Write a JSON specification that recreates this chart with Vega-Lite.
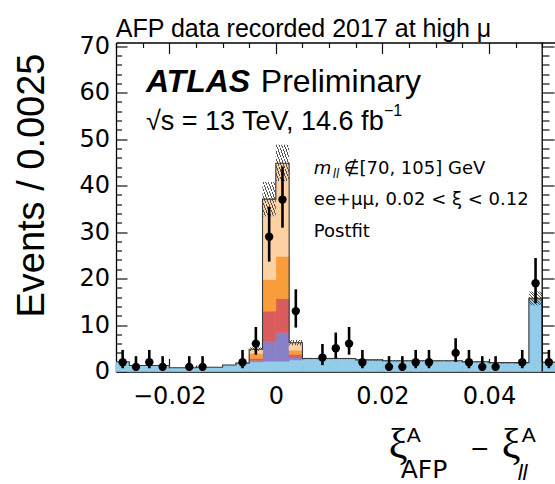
{
  "$schema": "https://vega.github.io/schema/vega-lite/v6.json",
  "width": 439,
  "height": 329,
  "autosize": {"type": "none"},
  "padding": {"left": 116, "top": 42.5, "right": 0, "bottom": 112.5},
  "background": "white",
  "title": {"text": "AFP data recorded 2017 at high μ", "anchor": "middle", "frame": "group", "offset": 9.5, "baseline": "alphabetic", "dx": -32, "dy": 37, "font": "Liberation Sans", "fontSize": 25, "fontWeight": "normal", "color": "#000"},
  "config": {
    "view": {"stroke": null},
    "axis": {"grid": false, "zindex": 2, "domainColor": "#000", "domainWidth": 1.3, "tickColor": "#111", "tickWidth": 1.2, "labelColor": "#000", "titleColor": "#000", "labelFont": "DejaVu Sans", "labelFontSize": 24, "labelOverlap": false, "labelBound": false, "labelFlush": false}
  },
  "datasets": {
    "comps": [
      {"lo": -0.03, "hi": -0.0275, "comp": "Background", "rank": 1, "n": 2.1},
      {"lo": -0.0275, "hi": -0.025, "comp": "Background", "rank": 1, "n": 1.3},
      {"lo": -0.025, "hi": -0.0225, "comp": "Background", "rank": 1, "n": 1.3},
      {"lo": -0.0225, "hi": -0.02, "comp": "Background", "rank": 1, "n": 1.3},
      {"lo": -0.02, "hi": -0.0175, "comp": "Background", "rank": 1, "n": 0.8},
      {"lo": -0.0175, "hi": -0.015, "comp": "Background", "rank": 1, "n": 0.8},
      {"lo": -0.015, "hi": -0.0125, "comp": "Background", "rank": 1, "n": 0.9},
      {"lo": -0.0125, "hi": -0.01, "comp": "Background", "rank": 1, "n": 0.9},
      {"lo": -0.01, "hi": -0.0075, "comp": "Background", "rank": 1, "n": 1.4},
      {"lo": -0.0075, "hi": -0.005, "comp": "Background", "rank": 1, "n": 1.8},
      {"lo": -0.005, "hi": -0.0025, "comp": "Background", "rank": 1, "n": 2.1},
      {"lo": -0.0025, "hi": 0, "comp": "Background", "rank": 1, "n": 2.2},
      {"lo": 0, "hi": 0.0025, "comp": "Background", "rank": 1, "n": 2.2},
      {"lo": 0.0025, "hi": 0.005, "comp": "Background", "rank": 1, "n": 2.5},
      {"lo": 0.005, "hi": 0.0075, "comp": "Background", "rank": 1, "n": 2.8},
      {"lo": 0.0075, "hi": 0.01, "comp": "Background", "rank": 1, "n": 2.8},
      {"lo": 0.01, "hi": 0.0125, "comp": "Background", "rank": 1, "n": 2.8},
      {"lo": 0.0125, "hi": 0.015, "comp": "Background", "rank": 1, "n": 2.8},
      {"lo": 0.015, "hi": 0.0175, "comp": "Background", "rank": 1, "n": 2.5},
      {"lo": 0.0175, "hi": 0.02, "comp": "Background", "rank": 1, "n": 2.5},
      {"lo": 0.02, "hi": 0.0225, "comp": "Background", "rank": 1, "n": 2.3},
      {"lo": 0.0225, "hi": 0.025, "comp": "Background", "rank": 1, "n": 2.3},
      {"lo": 0.025, "hi": 0.0275, "comp": "Background", "rank": 1, "n": 2.3},
      {"lo": 0.0275, "hi": 0.03, "comp": "Background", "rank": 1, "n": 2.3},
      {"lo": 0.03, "hi": 0.0325, "comp": "Background", "rank": 1, "n": 2.3},
      {"lo": 0.0325, "hi": 0.035, "comp": "Background", "rank": 1, "n": 2.3},
      {"lo": 0.035, "hi": 0.0375, "comp": "Background", "rank": 1, "n": 2.1},
      {"lo": 0.0375, "hi": 0.04, "comp": "Background", "rank": 1, "n": 2.1},
      {"lo": 0.04, "hi": 0.0425, "comp": "Background", "rank": 1, "n": 1.9},
      {"lo": 0.0425, "hi": 0.045, "comp": "Background", "rank": 1, "n": 1.9},
      {"lo": 0.045, "hi": 0.0475, "comp": "Background", "rank": 1, "n": 1.9},
      {"lo": 0.0475, "hi": 0.05, "comp": "Background", "rank": 1, "n": 15.5},
      {"lo": 0.05, "hi": 0.0525, "comp": "Background", "rank": 1, "n": 2.0},
      {"lo": 0.0525, "hi": 0.055, "comp": "Background", "rank": 1, "n": 2.0},
      {"lo": -0.005, "hi": -0.0025, "comp": "Signal SD", "rank": 2, "n": 0.3},
      {"lo": -0.0025, "hi": 0, "comp": "Signal SD", "rank": 2, "n": 4.2},
      {"lo": 0, "hi": 0.0025, "comp": "Signal SD", "rank": 2, "n": 6.2},
      {"lo": 0.0025, "hi": 0.005, "comp": "Signal SD", "rank": 2, "n": 0.5},
      {"lo": -0.005, "hi": -0.0025, "comp": "Signal DD", "rank": 3, "n": 0.4},
      {"lo": -0.0025, "hi": 0, "comp": "Signal DD", "rank": 3, "n": 6.6},
      {"lo": 0, "hi": 0.0025, "comp": "Signal DD", "rank": 3, "n": 7.3},
      {"lo": 0.0025, "hi": 0.005, "comp": "Signal DD", "rank": 3, "n": 0.7},
      {"lo": 0.0475, "hi": 0.05, "comp": "Signal DD", "rank": 3, "n": 0.25},
      {"lo": -0.005, "hi": -0.0025, "comp": "Signal El. SD", "rank": 4, "n": 1.1},
      {"lo": -0.0025, "hi": 0, "comp": "Signal El. SD", "rank": 4, "n": 6.8},
      {"lo": 0, "hi": 0.0025, "comp": "Signal El. SD", "rank": 4, "n": 9.1},
      {"lo": 0.0025, "hi": 0.005, "comp": "Signal El. SD", "rank": 4, "n": 0.9},
      {"lo": -0.005, "hi": -0.0025, "comp": "Signal El.", "rank": 5, "n": 0.9},
      {"lo": -0.0025, "hi": 0, "comp": "Signal El.", "rank": 5, "n": 17.3},
      {"lo": 0, "hi": 0.0025, "comp": "Signal El.", "rank": 5, "n": 20.0},
      {"lo": 0.0025, "hi": 0.005, "comp": "Signal El.", "rank": 5, "n": 1.6}
    ],
    "unc": [
      {"lo": -0.005, "hi": -0.0025, "down": 4.4, "up": 5.2},
      {"lo": -0.0025, "hi": 0, "down": 33.4, "up": 40.8},
      {"lo": 0, "hi": 0.0025, "down": 41.0, "up": 48.8},
      {"lo": 0.0025, "hi": 0.005, "down": 5.6, "up": 6.8},
      {"lo": 0.005, "hi": 0.0075, "down": 2.65, "up": 2.95},
      {"lo": 0.0075, "hi": 0.01, "down": 2.65, "up": 2.95},
      {"lo": 0.01, "hi": 0.0125, "down": 2.65, "up": 2.95},
      {"lo": 0.0125, "hi": 0.015, "down": 2.65, "up": 2.95},
      {"lo": 0.015, "hi": 0.0175, "down": 2.35, "up": 2.65},
      {"lo": 0.0175, "hi": 0.02, "down": 2.35, "up": 2.65},
      {"lo": 0.02, "hi": 0.0225, "down": 2.15, "up": 2.45},
      {"lo": 0.0225, "hi": 0.025, "down": 2.15, "up": 2.45},
      {"lo": 0.025, "hi": 0.0275, "down": 2.15, "up": 2.45},
      {"lo": 0.0275, "hi": 0.03, "down": 2.15, "up": 2.45},
      {"lo": 0.03, "hi": 0.0325, "down": 2.15, "up": 2.45},
      {"lo": 0.0325, "hi": 0.035, "down": 2.15, "up": 2.45},
      {"lo": 0.035, "hi": 0.0375, "down": 1.95, "up": 2.25},
      {"lo": 0.0375, "hi": 0.04, "down": 1.95, "up": 2.25},
      {"lo": 0.04, "hi": 0.0425, "down": 1.75, "up": 2.05},
      {"lo": 0.0425, "hi": 0.045, "down": 1.75, "up": 2.05},
      {"lo": 0.045, "hi": 0.0475, "down": 1.75, "up": 2.05},
      {"lo": 0.0475, "hi": 0.05, "down": 14.2, "up": 17.2},
      {"lo": 0.05, "hi": 0.0525, "down": 1.85, "up": 2.15}
    ],
    "pts": [
      {"x": -0.02875, "n": 2, "lo": 0.708, "hi": 4.638},
      {"x": -0.02625, "n": 1, "lo": 0.173, "hi": 3.3},
      {"x": -0.02375, "n": 2, "lo": 0.708, "hi": 4.638},
      {"x": -0.02125, "n": 1, "lo": 0.173, "hi": 3.3},
      {"x": -0.01625, "n": 1, "lo": 0.173, "hi": 3.3},
      {"x": -0.01375, "n": 1, "lo": 0.173, "hi": 3.3},
      {"x": -0.00625, "n": 2, "lo": 0.708, "hi": 4.638},
      {"x": -0.00375, "n": 6, "lo": 3.62, "hi": 9.584},
      {"x": -0.00125, "n": 29, "lo": 23.65, "hi": 35.45},
      {"x": 0.00125, "n": 37, "lo": 30.95, "hi": 44.13},
      {"x": 0.00375, "n": 13, "lo": 9.45, "hi": 17.69},
      {"x": 0.00875, "n": 3, "lo": 1.367, "hi": 5.918},
      {"x": 0.01125, "n": 5, "lo": 2.84, "hi": 8.382},
      {"x": 0.01375, "n": 6, "lo": 3.62, "hi": 9.584},
      {"x": 0.01625, "n": 2, "lo": 0.708, "hi": 4.638},
      {"x": 0.02125, "n": 1, "lo": 0.173, "hi": 3.3},
      {"x": 0.02375, "n": 1, "lo": 0.173, "hi": 3.3},
      {"x": 0.02625, "n": 2, "lo": 0.708, "hi": 4.638},
      {"x": 0.02875, "n": 2, "lo": 0.708, "hi": 4.638},
      {"x": 0.03375, "n": 4, "lo": 2.086, "hi": 7.163},
      {"x": 0.03625, "n": 2, "lo": 0.708, "hi": 4.638},
      {"x": 0.03875, "n": 1, "lo": 0.173, "hi": 3.3},
      {"x": 0.04125, "n": 1, "lo": 0.173, "hi": 3.3},
      {"x": 0.04625, "n": 2, "lo": 0.708, "hi": 4.638},
      {"x": 0.04875, "n": 19, "lo": 14.68, "hi": 24.43},
      {"x": 0.05125, "n": 2, "lo": 0.708, "hi": 4.638}
    ]
  },
  "layer": [
    {
      "data": {"name": "comps"},
      "transform": [{"stack": "n", "groupby": ["lo"], "sort": [{"field": "rank", "order": "ascending"}], "as": ["y0", "y1"]}],
      "mark": {"type": "rect", "strokeWidth": 0.6},
      "encoding": {
        "x": {"field": "lo", "type": "quantitative", "scale": {"domain": [-0.03, 0.0524], "nice": false, "zero": false},
          "axis": {"orient": "bottom", "title": null, "values": [-0.02, 0, 0.02, 0.04], "tickSize": -13, "labelPadding": 26,
            "labelExpr": "datum.value < -0.001 ? '−' + format(abs(datum.value), '.2f') : (abs(datum.value) < 0.001 ? '0' : format(datum.value, '.2f'))"}},
        "x2": {"field": "hi"},
        "y": {"field": "y0", "type": "quantitative", "scale": {"domain": [0, 70.8], "nice": false, "zero": false},
          "axis": {"orient": "left", "values": [0, 10, 20, 30, 40, 50, 60, 70], "tickSize": -11, "labelPadding": 17.5,
            "title": "Events / 0.0025", "titleFont": "Liberation Sans", "titleFontSize": 38, "titleFontWeight": "normal",
            "titleAngle": -90, "titleAlign": "right", "titleBaseline": "alphabetic", "titleX": -73, "titleY": 10.5}},
        "y2": {"field": "y1"},
        "color": {"field": "comp", "type": "nominal", "scale": {"domain": ["Background", "Signal SD", "Signal DD", "Signal El. SD", "Signal El."], "range": ["#93cce8", "#8a80c8", "#db5c5c", "#f99c3a", "#fdd1a2"]}, "legend": null},
        "stroke": {"field": "comp", "type": "nominal", "scale": {"domain": ["Background", "Signal SD", "Signal DD", "Signal El. SD", "Signal El."], "range": ["#93cce8", "#8a80c8", "#db5c5c", "#f99c3a", "#fdd1a2"]}, "legend": null}
      }
    },
    {
      "data": {"name": "unc"},
      "mark": {"type": "rect", "fill": {"gradient": "linear", "x1": 0, "y1": 1, "x2": 1, "y2": 0, "stops": [
        {"offset": 0, "color": "#555"}, {"offset": 0.035, "color": "#555"}, {"offset": 0.035, "color": "rgba(255,255,255,0)"}, {"offset": 0.1, "color": "rgba(255,255,255,0)"},
        {"offset": 0.1, "color": "#555"}, {"offset": 0.135, "color": "#555"}, {"offset": 0.135, "color": "rgba(255,255,255,0)"}, {"offset": 0.2, "color": "rgba(255,255,255,0)"},
        {"offset": 0.2, "color": "#555"}, {"offset": 0.235, "color": "#555"}, {"offset": 0.235, "color": "rgba(255,255,255,0)"}, {"offset": 0.3, "color": "rgba(255,255,255,0)"},
        {"offset": 0.3, "color": "#555"}, {"offset": 0.335, "color": "#555"}, {"offset": 0.335, "color": "rgba(255,255,255,0)"}, {"offset": 0.4, "color": "rgba(255,255,255,0)"},
        {"offset": 0.4, "color": "#555"}, {"offset": 0.435, "color": "#555"}, {"offset": 0.435, "color": "rgba(255,255,255,0)"}, {"offset": 0.5, "color": "rgba(255,255,255,0)"},
        {"offset": 0.5, "color": "#555"}, {"offset": 0.535, "color": "#555"}, {"offset": 0.535, "color": "rgba(255,255,255,0)"}, {"offset": 0.6, "color": "rgba(255,255,255,0)"},
        {"offset": 0.6, "color": "#555"}, {"offset": 0.635, "color": "#555"}, {"offset": 0.635, "color": "rgba(255,255,255,0)"}, {"offset": 0.7, "color": "rgba(255,255,255,0)"},
        {"offset": 0.7, "color": "#555"}, {"offset": 0.735, "color": "#555"}, {"offset": 0.735, "color": "rgba(255,255,255,0)"}, {"offset": 0.8, "color": "rgba(255,255,255,0)"},
        {"offset": 0.8, "color": "#555"}, {"offset": 0.835, "color": "#555"}, {"offset": 0.835, "color": "rgba(255,255,255,0)"}, {"offset": 0.9, "color": "rgba(255,255,255,0)"},
        {"offset": 0.9, "color": "#555"}, {"offset": 0.935, "color": "#555"}, {"offset": 0.935, "color": "rgba(255,255,255,0)"}, {"offset": 1, "color": "rgba(255,255,255,0)"}
      ]}},
      "encoding": {
        "x": {"field": "lo", "type": "quantitative", "axis": null},
        "x2": {"field": "hi"},
        "y": {"field": "down", "type": "quantitative", "axis": null},
        "y2": {"field": "up"}
      }
    },
    {
      "data": {"name": "comps"},
      "transform": [{"aggregate": [{"op": "sum", "field": "n", "as": "total"}], "groupby": ["lo"]}],
      "mark": {"type": "line", "interpolate": "step-after", "color": "#3a3a3a", "strokeWidth": 1.1},
      "encoding": {
        "x": {"field": "lo", "type": "quantitative", "axis": null},
        "y": {"field": "total", "type": "quantitative", "axis": null}
      }
    },
    {
      "data": {"name": "pts"},
      "mark": {"type": "rule", "color": "#000", "strokeWidth": 2.6},
      "encoding": {
        "x": {"field": "x", "type": "quantitative", "axis": null},
        "y": {"field": "lo", "type": "quantitative", "axis": null},
        "y2": {"field": "hi"}
      }
    },
    {
      "data": {"name": "pts"},
      "mark": {"type": "circle", "color": "#000", "opacity": 1, "size": 70},
      "encoding": {
        "x": {"field": "x", "type": "quantitative", "axis": null},
        "y": {"field": "n", "type": "quantitative", "axis": null}
      }
    },
    {
      "data": {"values": [{}]},
      "mark": {"type": "rule", "opacity": 0},
      "encoding": {
        "x": {"datum": 0.05, "type": "quantitative",
          "axis": {"orient": "bottom", "title": null, "labels": false, "domain": false, "values": [-0.03, -0.025, -0.015, -0.01, -0.005, 0.005, 0.01, 0.015, 0.025, 0.03, 0.035, 0.045, 0.05], "tickSize": -6.5}},
        "y": {"datum": 0, "type": "quantitative",
          "axis": {"orient": "left", "title": null, "labels": false, "domain": false, "values": [2, 4, 6, 8, 12, 14, 16, 18, 22, 24, 26, 28, 32, 34, 36, 38, 42, 44, 46, 48, 52, 54, 56, 58, 62, 64, 66, 68], "tickSize": -5.5}},
        "y2": {"datum": 70.8}
      }
    },
    {
      "data": {"values": [{}]},
      "mark": {"type": "rule", "opacity": 0},
      "encoding": {
        "x": {"datum": 0.05, "type": "quantitative",
          "axis": {"orient": "top", "title": null, "labels": false, "domain": false, "values": [-0.03, -0.025, -0.015, -0.01, -0.005, 0.005, 0.01, 0.015, 0.025, 0.03, 0.035, 0.045, 0.05], "tickSize": -5}},
        "y": {"datum": 0, "type": "quantitative",
          "axis": {"orient": "right", "title": null, "labels": false, "domain": false, "offset": -13, "values": [2, 4, 6, 8, 12, 14, 16, 18, 22, 24, 26, 28, 32, 34, 36, 38, 42, 44, 46, 48, 52, 54, 56, 58, 62, 64, 66, 68], "tickSize": 7}},
        "y2": {"datum": 70.8}
      }
    },
    {
      "data": {"values": [{}]},
      "mark": {"type": "rule", "color": "#000", "strokeWidth": 1.3},
      "encoding": {
        "x": {"datum": 0.05, "type": "quantitative",
          "axis": {"orient": "top", "title": null, "labels": false, "domain": true, "values": [-0.02, 0, 0.02, 0.04], "tickSize": -11}},
        "y": {"datum": 0, "type": "quantitative",
          "axis": {"orient": "right", "title": null, "labels": false, "domain": false, "offset": -13, "values": [0, 10, 20, 30, 40, 50, 60, 70], "tickSize": 12}},
        "y2": {"datum": 70.8}
      }
    },
    {"data": {"values": [{}]}, "mark": {"type": "text", "text": "ATLAS", "font": "Liberation Sans", "fontSize": 32, "fontWeight": "bold", "fontStyle": "italic", "align": "left", "baseline": "alphabetic", "color": "#000"},
     "encoding": {"x": {"datum": -0.02439, "type": "quantitative", "axis": null}, "y": {"datum": 60.1, "type": "quantitative", "axis": null}}},
    {"data": {"values": [{}]}, "mark": {"type": "text", "text": "Preliminary", "font": "Liberation Sans", "fontSize": 32, "align": "left", "baseline": "alphabetic", "color": "#000"},
     "encoding": {"x": {"datum": -0.00281, "type": "quantitative", "axis": null}, "y": {"datum": 60.1, "type": "quantitative", "axis": null}}},
    {"data": {"values": [{}]}, "mark": {"type": "text", "text": "√s = 13 TeV, 14.6 fb", "font": "Liberation Sans", "fontSize": 27, "align": "left", "baseline": "alphabetic", "color": "#000"},
     "encoding": {"x": {"datum": -0.02439, "type": "quantitative", "axis": null}, "y": {"datum": 51.9, "type": "quantitative", "axis": null}}},
    {"data": {"values": [{}]}, "mark": {"type": "text", "text": "−1", "font": "Liberation Sans", "fontSize": 16, "align": "left", "baseline": "alphabetic", "color": "#000"},
     "encoding": {"x": {"datum": 0.0203, "type": "quantitative", "axis": null}, "y": {"datum": 54.9, "type": "quantitative", "axis": null}}},
    {"data": {"values": [{}]}, "mark": {"type": "text", "text": "m", "font": "DejaVu Sans", "fontSize": 18, "fontStyle": "italic", "align": "left", "baseline": "alphabetic", "color": "#000"},
     "encoding": {"x": {"datum": 0.00713, "type": "quantitative", "axis": null}, "y": {"datum": 42.6, "type": "quantitative", "axis": null}}},
    {"data": {"values": [{}]}, "mark": {"type": "text", "text": "ll", "font": "DejaVu Sans", "fontSize": 12, "fontStyle": "italic", "align": "left", "baseline": "alphabetic", "color": "#000"},
     "encoding": {"x": {"datum": 0.01069, "type": "quantitative", "axis": null}, "y": {"datum": 41.6, "type": "quantitative", "axis": null}}},
    {"data": {"values": [{}]}, "mark": {"type": "text", "text": "∉[70, 105] GeV", "font": "DejaVu Sans", "fontSize": 18, "align": "left", "baseline": "alphabetic", "color": "#000"},
     "encoding": {"x": {"datum": 0.01276, "type": "quantitative", "axis": null}, "y": {"datum": 42.6, "type": "quantitative", "axis": null}}},
    {"data": {"values": [{}]}, "mark": {"type": "text", "text": "ee+μμ, 0.02 < ξ < 0.12", "font": "DejaVu Sans", "fontSize": 18, "align": "left", "baseline": "alphabetic", "color": "#000"},
     "encoding": {"x": {"datum": 0.00713, "type": "quantitative", "axis": null}, "y": {"datum": 35.8, "type": "quantitative", "axis": null}}},
    {"data": {"values": [{}]}, "mark": {"type": "text", "text": "Postfit", "font": "DejaVu Sans", "fontSize": 18, "align": "left", "baseline": "alphabetic", "color": "#000"},
     "encoding": {"x": {"datum": 0.00713, "type": "quantitative", "axis": null}, "y": {"datum": 28.86, "type": "quantitative", "axis": null}}},
    {"data": {"values": [{}]}, "mark": {"type": "text", "text": "ξ", "font": "Liberation Serif", "fontSize": 42, "align": "left", "baseline": "alphabetic", "color": "#000"},
     "encoding": {"x": {"datum": 0.0212, "type": "quantitative", "axis": null}, "y": {"datum": -18.6, "type": "quantitative", "axis": null}}},
    {"data": {"values": [{}]}, "mark": {"type": "text", "text": "A", "font": "Liberation Sans", "fontSize": 21, "align": "left", "baseline": "alphabetic", "color": "#000"},
     "encoding": {"x": {"datum": 0.02458, "type": "quantitative", "axis": null}, "y": {"datum": -15.2, "type": "quantitative", "axis": null}}},
    {"data": {"values": [{}]}, "mark": {"type": "text", "text": "AFP", "font": "DejaVu Sans", "fontSize": 25, "align": "left", "baseline": "alphabetic", "color": "#000"},
     "encoding": {"x": {"datum": 0.02345, "type": "quantitative", "axis": null}, "y": {"datum": -22.9, "type": "quantitative", "axis": null}}},
    {"data": {"values": [{}]}, "mark": {"type": "text", "text": "−", "font": "Liberation Sans", "fontSize": 30, "align": "center", "baseline": "alphabetic", "color": "#000"},
     "encoding": {"x": {"datum": 0.03827, "type": "quantitative", "axis": null}, "y": {"datum": -18.8, "type": "quantitative", "axis": null}}},
    {"data": {"values": [{}]}, "mark": {"type": "text", "text": "ξ", "font": "Liberation Serif", "fontSize": 42, "align": "left", "baseline": "alphabetic", "color": "#000"},
     "encoding": {"x": {"datum": 0.0424, "type": "quantitative", "axis": null}, "y": {"datum": -18.6, "type": "quantitative", "axis": null}}},
    {"data": {"values": [{}]}, "mark": {"type": "text", "text": "A", "font": "Liberation Sans", "fontSize": 21, "align": "left", "baseline": "alphabetic", "color": "#000"},
     "encoding": {"x": {"datum": 0.04615, "type": "quantitative", "axis": null}, "y": {"datum": -15.2, "type": "quantitative", "axis": null}}},
    {"data": {"values": [{}]}, "mark": {"type": "text", "text": "ll", "font": "Liberation Sans", "fontSize": 22, "fontStyle": "italic", "align": "left", "baseline": "alphabetic", "color": "#000"},
     "encoding": {"x": {"datum": 0.0454, "type": "quantitative", "axis": null}, "y": {"datum": -23.3, "type": "quantitative", "axis": null}}}
  ],
  "resolve": {"axis": {"x": "independent", "y": "independent"}}
}
